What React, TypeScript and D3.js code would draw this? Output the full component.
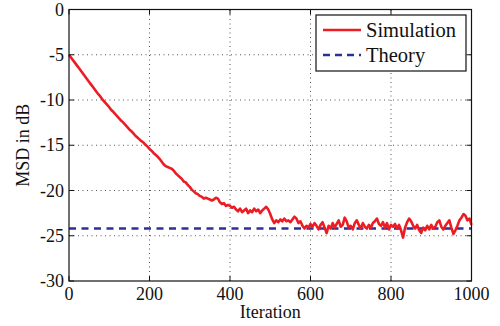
import * as d3 from "d3";
import { useRef, useEffect } from "react";

// Iteration step between samples of the simulated curve
const iterStep = 5;

// Simulated MSD (dB), iterations 0..395
const simTransient = [
  -5.0, -5.3, -5.6, -5.9, -6.2, -6.5, -6.8, -7.1, -7.4, -7.7,
  -8.0, -8.3, -8.6, -8.9, -9.2, -9.45, -9.75, -10.05, -10.3, -10.55,
  -10.8, -11.1, -11.3, -11.55, -11.8, -12.05, -12.3, -12.5, -12.75, -13.0,
  -13.25, -13.45, -13.7, -13.95, -14.15, -14.35, -14.55, -14.7, -14.95, -15.15,
  -15.4, -15.6, -15.85, -16.05, -16.25, -16.5, -16.8, -17.1, -17.3, -17.4,
  -17.5, -17.6, -17.8, -18.1, -18.3, -18.5, -18.7, -19.0, -19.1, -19.4,
  -19.6, -19.9, -20.1, -20.3, -20.4, -20.6, -20.7, -20.9, -20.8, -20.9,
  -21.0, -21.1, -21.0, -20.8, -20.9, -21.3, -21.5, -21.4, -21.7, -21.6,
];

// Simulated MSD (dB), iterations 400..1000
const simSteady = [
  -21.7, -21.9, -21.8, -22.1, -22.3, -22.0, -22.4, -22.2, -22.0, -22.5,
  -22.2, -22.4, -22.0, -22.3, -22.1, -22.5, -22.2, -22.0, -21.8, -22.1,
  -22.6, -23.2, -23.6, -23.3, -23.5, -23.2, -23.4, -23.1, -23.4, -23.3,
  -23.5, -23.2, -22.9, -23.1, -23.6, -23.4, -23.9, -24.2, -23.9, -24.1,
  -23.7, -24.0, -23.6, -23.9, -24.3, -23.8, -23.5, -24.1, -24.7, -23.9,
  -24.2, -23.6, -24.1, -23.7, -23.3, -24.0, -23.8, -23.0, -23.4, -24.1,
  -23.9, -24.3, -23.6, -23.3, -23.8, -24.2, -23.6, -24.0, -24.2, -23.8,
  -24.1, -23.6, -23.4, -23.1, -23.7, -23.9, -23.5, -24.1, -23.6, -24.3,
  -23.8, -24.0, -23.7, -24.2, -23.8, -24.4, -25.2, -24.1, -23.5, -23.1,
  -23.4, -23.9, -24.2, -23.8, -24.4, -24.7, -24.1, -24.4, -23.9, -24.3,
  -23.8, -24.2, -24.0, -23.5, -23.3, -24.0, -24.3, -23.9, -23.6, -23.3,
  -24.1, -24.8, -24.4, -23.9, -23.3, -23.0, -22.6, -22.8, -23.3, -23.1,
  -23.8,
];

const theoryMSD = -24.2;
const xTicks = [0, 200, 400, 600, 800, 1000];
const yTicks = [0, -5, -10, -15, -20, -25, -30];
const legendLabels = ["Simulation", "Theory"];

const W = 500;
const H = 326;
const margin = { top: 9.5, right: 28, bottom: 45, left: 69 };
const FONT = "Liberation Serif";
const RED = "#ec1c24";
const BLUE = "#2e3192";

export default function App() {
  const svgRef = useRef<SVGSVGElement | null>(null);

  useEffect(() => {
    if (!svgRef.current) return;
    const svg = d3.select(svgRef.current);
    svg.selectAll("*").remove();

    const sim = simTransient.concat(simSteady).map((v, i) => ({ it: i * iterStep, v }));

    const x = d3.scaleLinear().domain([0, 1000]).range([margin.left, W - margin.right - 0.5]);
    const y = d3.scaleLinear().domain([-30, 0]).range([H - margin.bottom, margin.top]);
    const [x0, x1] = x.range();
    const [yb, yt] = y.range();

    // grid
    const grid = svg.append("g")
      .attr("stroke", "#555")
      .attr("stroke-width", 1)
      .attr("stroke-dasharray", "1,3.5");
    xTicks.slice(1, -1).forEach(t => {
      grid.append("line").attr("x1", x(t)).attr("x2", x(t)).attr("y1", yb).attr("y2", yt);
    });
    yTicks.slice(1, -1).forEach(t => {
      grid.append("line").attr("x1", x0).attr("x2", x1).attr("y1", y(t)).attr("y2", y(t));
    });

    // theory line
    svg.append("line")
      .attr("x1", x(0)).attr("x2", x(1000))
      .attr("y1", y(theoryMSD)).attr("y2", y(theoryMSD))
      .attr("stroke", BLUE)
      .attr("stroke-width", 2.5)
      .attr("stroke-dasharray", "7,5.5");

    // simulation line
    const line = d3.line<{ it: number; v: number }>().x(d => x(d.it)).y(d => y(d.v));
    svg.append("path")
      .datum(sim)
      .attr("d", line)
      .attr("fill", "none")
      .attr("stroke", RED)
      .attr("stroke-width", 2.6)
      .attr("stroke-linejoin", "round");

    // frame
    svg.append("rect")
      .attr("x", x0).attr("y", yt)
      .attr("width", x1 - x0).attr("height", yb - yt)
      .attr("fill", "none")
      .attr("stroke", "#111")
      .attr("stroke-width", 1.2);

    // inward ticks
    const tk = svg.append("g").attr("stroke", "#111").attr("stroke-width", 1);
    xTicks.forEach(t => {
      tk.append("line").attr("x1", x(t)).attr("x2", x(t)).attr("y1", yb).attr("y2", yb - 5);
      tk.append("line").attr("x1", x(t)).attr("x2", x(t)).attr("y1", yt).attr("y2", yt + 5);
    });
    yTicks.forEach(t => {
      tk.append("line").attr("x1", x0).attr("x2", x0 + 5).attr("y1", y(t)).attr("y2", y(t));
      tk.append("line").attr("x1", x1).attr("x2", x1 - 5).attr("y1", y(t)).attr("y2", y(t));
    });

    // tick labels
    const lab = svg.append("g").attr("font-family", FONT).attr("font-size", 18).attr("fill", "#111");
    xTicks.forEach(t => {
      lab.append("text").attr("x", x(t)).attr("y", yb + 19).attr("text-anchor", "middle").text(String(t));
    });
    yTicks.forEach(t => {
      lab.append("text").attr("x", x0 - 5).attr("y", y(t) + 6).attr("text-anchor", "end").text(String(t));
    });

    // axis titles
    lab.append("text")
      .attr("x", (x0 + x1) / 2).attr("y", 318)
      .attr("text-anchor", "middle")
      .text("Iteration");
    lab.append("text")
      .attr("transform", `translate(29,${(yt + yb) / 2}) rotate(-90)`)
      .attr("text-anchor", "middle")
      .text("MSD in dB");

    // legend
    const lg = svg.append("g").attr("transform", "translate(316,15)");
    lg.append("rect")
      .attr("width", 150).attr("height", 56)
      .attr("fill", "#fff")
      .attr("stroke", "#111")
      .attr("stroke-width", 1.2);
    const colors = [RED, BLUE];
    legendLabels.forEach((name, i) => {
      const yy = 15 + i * 25;
      lg.append("line")
        .attr("x1", 7).attr("x2", 45).attr("y1", yy).attr("y2", yy)
        .attr("stroke", colors[i])
        .attr("stroke-width", 2.5)
        .attr("stroke-dasharray", i === 1 ? "7,5" : null);
      lg.append("text")
        .attr("x", 50).attr("y", yy + 7)
        .attr("font-family", FONT)
        .attr("font-size", 20.5)
        .attr("fill", "#111")
        .text(name);
    });
  }, []);

  return (
    <svg
      ref={svgRef}
      width={W}
      height={H}
      style={{ position: "absolute", left: 0, top: 0, background: "#fff" }}
    />
  );
}
